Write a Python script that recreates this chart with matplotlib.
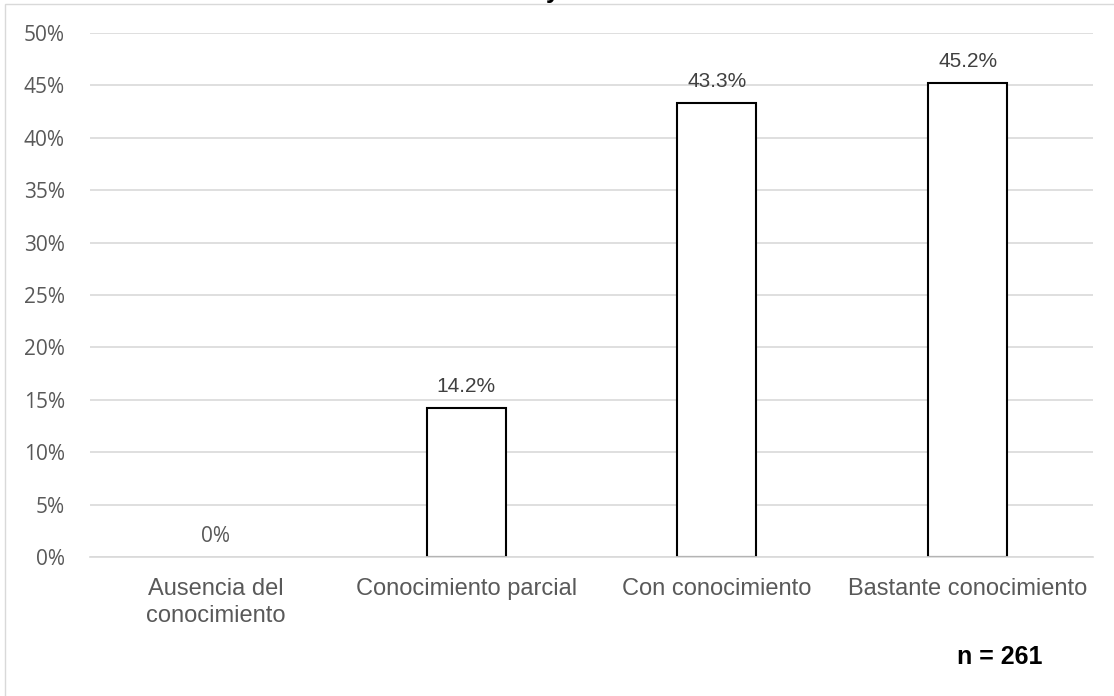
import matplotlib
matplotlib.use("Agg")
import matplotlib.pyplot as plt
from matplotlib.patches import Rectangle

categories = ["Ausencia del\nconocimiento", "Conocimiento parcial", "Con conocimiento", "Bastante conocimiento"]
values = [0.0, 14.2, 43.3, 45.2]
value_labels = ["0%", "14.2%", "43.3%", "45.2%"]
yticks = [0, 5, 10, 15, 20, 25, 30, 35, 40, 45, 50]
ytick_labels = [f"{t}%" for t in yticks]
note = "n = 261"

plt.rcParams['font.family'] = ['Liberation Sans', 'DejaVu Sans']

W, H = 1114, 696
fig = plt.figure(figsize=(W/100, H/100), dpi=100)
ax = fig.add_axes([90/W, 1-557/H, (1093-90)/W, (557-33)/H])

x = list(range(len(categories)))
bars = ax.bar(x, values, width=0.315, color='white', edgecolor='black', linewidth=1.5, zorder=3)
for b, v in zip(bars, values):
    if v == 0:
        b.set_visible(False)

for xi, v, lab in zip(x, values, value_labels):
    if v == 0:
        ax.annotate(lab, (xi, v), xytext=(0, 7), textcoords='offset points',
                    ha='center', va='bottom', fontsize=15, color='#595959',
                    family=['Open Sans', 'DejaVu Sans'])
    else:
        ax.annotate(lab, (xi, v), xytext=(0, 8.5), textcoords='offset points',
                    ha='center', va='bottom', fontsize=15, color='#404040')

ax.set_xlim(-0.5, 3.5)
ax.set_ylim(0, 50)
ax.set_yticks(yticks)
ax.set_yticklabels(ytick_labels, fontsize=15, color='#595959', family=['Open Sans', 'DejaVu Sans'])
ax.set_xticks(x)
ax.set_xticklabels(categories, fontsize=17, color='#595959', linespacing=1.3)
ax.tick_params(axis='both', length=0)
ax.tick_params(axis='y', pad=18)
ax.tick_params(axis='x', pad=15)
ax.yaxis.grid(True, color='#d9d9d9', linewidth=1.2, zorder=0)
ax.set_axisbelow(True)
for s in ['top', 'right', 'left']:
    ax.spines[s].set_visible(False)
ax.spines['bottom'].set_color('#d9d9d9')
ax.spines['bottom'].set_linewidth(1.2)
ax.spines['bottom'].set_zorder(4)

fig.text(957/W, 1-657/H, note, ha='left', va='center', fontsize=18, fontweight='bold', color='black')

# outer chart border
fig.patches.append(Rectangle((5/W, -0.01), 1.02, 1 - 4/H + 0.01, transform=fig.transFigure,
                             fill=False, edgecolor='#d9d9d9', linewidth=1.0))
# clipped title fragment (only the descender of the last letter is visible)
fig.text(553/W, 1 + 2/H, "y", ha='center', va='baseline', fontsize=18, fontweight='bold', color='black')

fig.savefig("out.png", dpi=100)
